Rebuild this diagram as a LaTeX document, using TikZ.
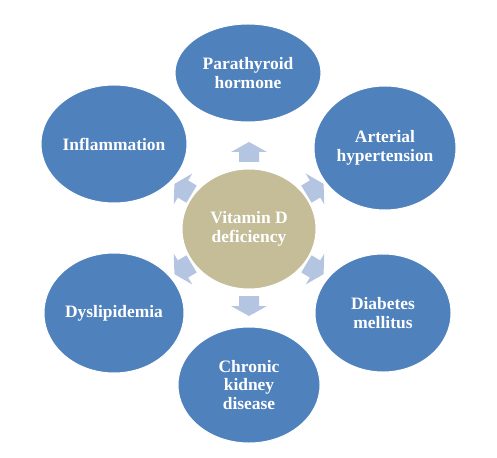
\documentclass[tikz,border=0pt]{standalone}
\usepackage{fontspec}
\setmainfont{Liberation Serif}
\usetikzlibrary{shapes.geometric}
\definecolor{nodeblue}{HTML}{4F81BD}
\definecolor{centertan}{HTML}{C4BD97}
\definecolor{arrowblue}{HTML}{B4C5E2}
\begin{document}
\begin{tikzpicture}[x=1bp,y=-1bp,
  outer/.style={ellipse, fill=nodeblue, draw=white, line width=1pt, inner sep=0pt,
    text=white, align=center, font=\bfseries\fontsize{17.5}{19}\selectfont},
  inner/.style={outer, fill=centertan},
  blockarrow/.style={fill=arrowblue, draw=none}]
\useasboundingbox (0,0) rectangle (497,458);
\node[inner, minimum width=134bp, minimum height=120bp] (vd) at (249,229) {Vitamin D\\deficiency};
\node[outer, minimum width=146bp, minimum height=98bp] (pth) at (248,73) {Parathyroid\\hormone};
\node[outer, minimum width=142bp, minimum height=124bp] (ah) at (385,148) {Arterial\\hypertension};
\node[outer, minimum width=136bp, minimum height=118bp] (dm) at (383,313) {Diabetes\\mellitus};
\node[outer, minimum width=142bp, minimum height=116bp] (ckd) at (249,385) {Chronic\\kidney\\disease};
\node[outer, minimum width=140bp, minimum height=120bp] (dys) at (114,313) {Dyslipidemia};
\node[outer, minimum width=146bp, minimum height=118bp] (inf) at (114,144) {Inflammation};
\foreach \cx/\cy/\ang in {249/152/90, 315/189/31, 315/269/-31, 249/306/-90, 183/269/-149, 183/189/149}{
  \fill[blockarrow, shift={(\cx,\cy)}, rotate=\ang]
    (-10,-10) -- (0,-10) -- (0,-18) -- (10,0) -- (0,18) -- (0,10) -- (-10,10) -- cycle;
}
\end{tikzpicture}
\end{document}
